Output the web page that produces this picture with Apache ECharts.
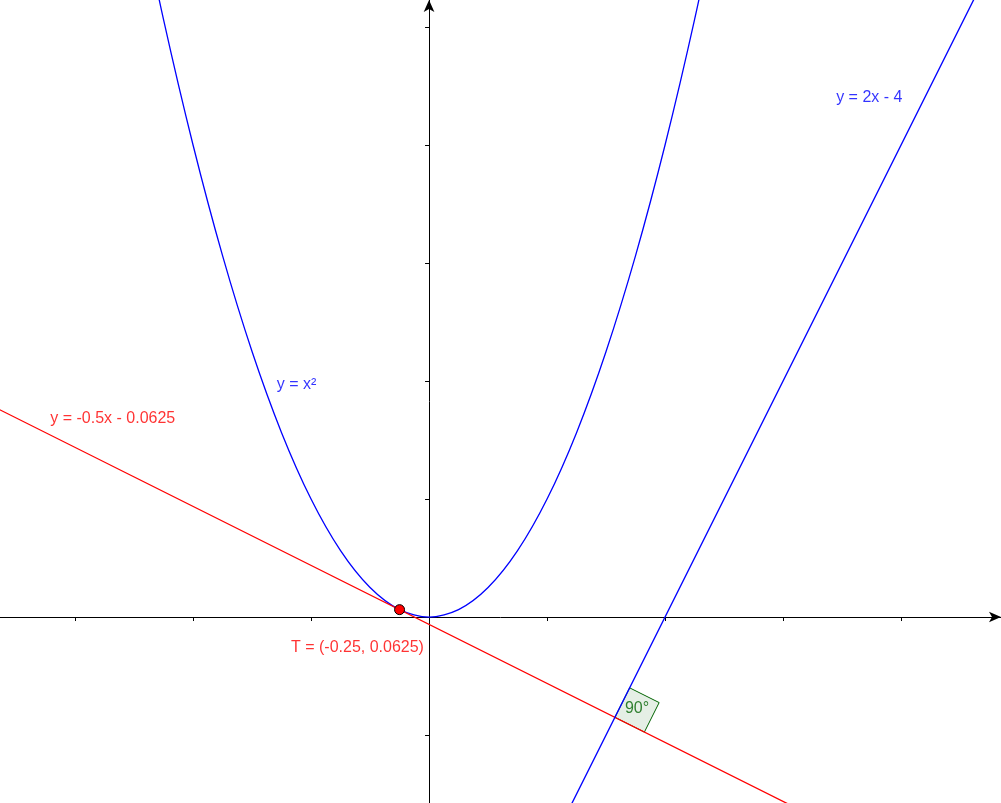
<!DOCTYPE html>
<html><head><meta charset="utf-8">
<script src="https://cdn.jsdelivr.net/npm/echarts@6/dist/echarts.min.js"></script>
<style>html,body{margin:0;padding:0;background:#fff}#c{width:1001px;height:803px}</style>
</head><body><div id="c"></div>
<script>
const xRange = [-3.636, 4.847];
const yRange = [-1.576, 5.229];
const parabola = [[-2.5,6.25],[-2.25,5.0625],[-2,4],[-1.75,3.0625],[-1.5,2.25],[-1.25,1.5625],[-1,1],[-0.75,0.5625],[-0.5,0.25],[-0.25,0.0625],[0,0],[0.25,0.0625],[0.5,0.25],[0.75,0.5625],[1,1],[1.25,1.5625],[1.5,2.25],[1.75,3.0625],[2,4],[2.25,5.0625],[2.5,6.25]];
const tangentLine = [[-3.8,1.8375],[5,-2.5625]];
const normalLine = [[1.1,-1.8],[5,6]];
const pointT = [[-0.25,0.0625]];
const rightAngle = [[1.575,-0.85],[1.7,-0.6],[1.95,-0.725],[1.825,-0.975]];
const labels = [
  {text:'y = x²', x:-1.29, y:1.97, color:'#0000ff'},
  {text:'y = 2x - 4', x:3.45, y:4.4, color:'#0000ff'},
  {text:'y = -0.5x - 0.0625', x:-3.21, y:1.68, color:'#ff0000'},
  {text:'T = (-0.25, 0.0625)', x:-1.17, y:-0.26, color:'#ff0000'}
];
const chart = echarts.init(document.getElementById('c'));
const font = 'Liberation Sans, Arial, sans-serif';
const fmt = v => Math.abs(v-Math.round(v))<1e-6 ? String(Math.round(v)) : '';
chart.setOption({
  animation:false,
  grid:{left:0,right:0,top:0,bottom:0,containLabel:false,outerBoundsMode:'none'},
  xAxis:{type:'value',min:xRange[0],max:xRange[1],minInterval:1,maxInterval:1,splitNumber:9,splitLine:{show:false},
    axisLine:{onZero:true,symbol:['none','arrow'],symbolSize:[8,12],lineStyle:{color:'#000'}},
    axisTick:{length:4,lineStyle:{color:'#000'}},
    axisLabel:{color:'#000',fontFamily:font,fontSize:13,margin:8,showMinLabel:false,showMaxLabel:false,formatter:fmt}},
  yAxis:{type:'value',min:yRange[0],max:yRange[1],minInterval:1,maxInterval:1,splitNumber:7,splitLine:{show:false},
    axisLine:{onZero:true,symbol:['none','arrow'],symbolSize:[8,12],lineStyle:{color:'#000'}},
    axisTick:{length:4,lineStyle:{color:'#000'}},
    axisLabel:{color:'#000',fontFamily:font,fontSize:13,margin:8,showMinLabel:false,showMaxLabel:false,formatter:fmt}},
  series:[
    {type:'custom',renderItem:(p,api)=>({type:'polygon',shape:{points:rightAngle.map(q=>api.coord(q))},
      style:{fill:'rgba(0,100,0,0.1)',stroke:'#006400',lineWidth:1}}),data:[0],z:1,silent:true},
    {type:'line',data:parabola,smooth:0.3,showSymbol:false,lineStyle:{color:'#0000ff',width:1.3},z:3},
    {type:'line',data:tangentLine,showSymbol:false,lineStyle:{color:'#ff0000',width:1.3},z:3},
    {type:'line',data:normalLine,showSymbol:false,lineStyle:{color:'#0000ff',width:1.3},z:3},
    {type:'scatter',data:pointT,symbolSize:10,itemStyle:{color:'#ff0000',borderColor:'#000',borderWidth:1,opacity:1},z:5},
    {type:'scatter',data:labels.map(l=>({value:[l.x,l.y],label:{formatter:l.text,color:l.color}})),
      symbolSize:0,label:{show:true,position:'right',distance:0,fontFamily:font,fontSize:16},z:6},
    {type:'scatter',data:[[1.66,-0.78]],symbolSize:0,
      label:{show:true,position:'right',distance:0,formatter:'90°',color:'#006400',fontFamily:font,fontSize:16},z:6}
  ]
});
</script></body></html>
